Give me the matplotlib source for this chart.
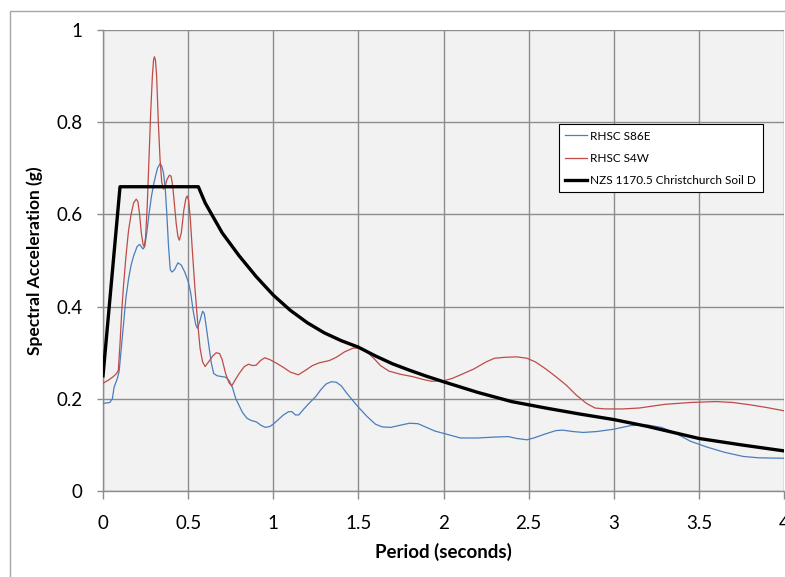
"""Response spectra: RHSC records vs NZS 1170.5 design spectrum."""

import matplotlib
matplotlib.use("Agg")
import matplotlib.pyplot as plt
from matplotlib.patches import Rectangle

BLUE = "#4a7ebb"
RED = "#be4b48"
GRID = "#8c8c8c"
PLOT_BG = "#f2f2f2"

# RHSC S86E (blue)
s86e_t = [0.0, 0.04, 0.055, 0.065, 0.085, 0.095, 0.105, 0.12, 0.135, 0.15, 0.165, 0.18,
          0.2, 0.215, 0.235, 0.245, 0.257, 0.27, 0.285, 0.3, 0.32, 0.335, 0.345, 0.355,
          0.365, 0.375, 0.385, 0.395, 0.405, 0.42, 0.44, 0.46, 0.48, 0.5, 0.515, 0.53,
          0.545, 0.555, 0.57, 0.585, 0.595, 0.605, 0.62, 0.635, 0.65, 0.67, 0.7, 0.72,
          0.74, 0.76, 0.78, 0.8, 0.82, 0.845, 0.87, 0.9, 0.93, 0.955, 0.98, 1.0, 1.03,
          1.06, 1.09, 1.11, 1.13, 1.15, 1.18, 1.21, 1.25, 1.28, 1.31, 1.34, 1.37, 1.4,
          1.43, 1.47, 1.5, 1.55, 1.6, 1.64, 1.69, 1.75, 1.8, 1.85, 1.9, 1.95, 2.0, 2.05,
          2.1, 2.2, 2.3, 2.38, 2.43, 2.49, 2.53, 2.6, 2.66, 2.7, 2.76, 2.82, 2.9, 3.0,
          3.1, 3.2, 3.28, 3.35, 3.45, 3.55, 3.65, 3.76, 3.85, 4.0]
s86e_sa = [0.19, 0.192, 0.2, 0.225, 0.245, 0.26, 0.3, 0.36, 0.42, 0.46, 0.49, 0.51,
           0.53, 0.535, 0.525, 0.53, 0.56, 0.6, 0.64, 0.67, 0.7, 0.71, 0.705, 0.69,
           0.66, 0.6, 0.53, 0.48, 0.475, 0.48, 0.495, 0.49, 0.475, 0.455, 0.43, 0.39,
           0.36, 0.353, 0.37, 0.39, 0.385, 0.36, 0.32, 0.28, 0.255, 0.25, 0.248, 0.247,
           0.24, 0.225, 0.2, 0.185, 0.17, 0.158, 0.153, 0.15, 0.142, 0.138, 0.14, 0.145,
           0.155, 0.165, 0.172, 0.172, 0.165, 0.165, 0.178, 0.19, 0.205, 0.22, 0.232,
           0.237, 0.236, 0.228, 0.213, 0.195, 0.182, 0.162, 0.145, 0.139, 0.138, 0.143,
           0.147, 0.146, 0.138, 0.13, 0.125, 0.12, 0.115, 0.115, 0.117, 0.118, 0.114,
           0.111, 0.115, 0.124, 0.131, 0.132, 0.129, 0.127, 0.129, 0.134, 0.142, 0.143,
           0.138, 0.128, 0.108, 0.095, 0.084, 0.075, 0.072, 0.071]

# RHSC S4W (red)
s4w_t = [0.0, 0.03, 0.06, 0.08, 0.09, 0.1, 0.11, 0.12, 0.135, 0.15, 0.165, 0.18, 0.195,
         0.205, 0.215, 0.225, 0.235, 0.242, 0.25, 0.26, 0.27, 0.28, 0.29, 0.297, 0.302,
         0.308, 0.315, 0.325, 0.335, 0.345, 0.355, 0.365, 0.375, 0.39, 0.4, 0.41, 0.42,
         0.43, 0.44, 0.448, 0.46, 0.475, 0.487, 0.495, 0.503, 0.513, 0.525, 0.54, 0.555,
         0.57, 0.585, 0.6, 0.62, 0.645, 0.665, 0.685, 0.7, 0.72, 0.74, 0.756, 0.775, 0.8,
         0.83, 0.855, 0.88, 0.9, 0.925, 0.95, 0.98, 1.02, 1.06, 1.1, 1.147, 1.19, 1.23,
         1.27, 1.33, 1.37, 1.42, 1.47, 1.51, 1.55, 1.59, 1.63, 1.68, 1.75, 1.82, 1.88,
         1.93, 2.0, 2.05, 2.1, 2.18, 2.25, 2.3, 2.36, 2.43, 2.49, 2.54, 2.6, 2.66, 2.72,
         2.78, 2.84, 2.89, 2.95, 3.05, 3.15, 3.3, 3.45, 3.6, 3.7, 3.8, 3.9, 4.0]
s4w_sa = [0.234, 0.24, 0.248, 0.255, 0.262, 0.32, 0.39, 0.443, 0.51, 0.565, 0.6, 0.625,
          0.633, 0.628, 0.6, 0.56, 0.535, 0.53, 0.55, 0.62, 0.72, 0.82, 0.9, 0.935, 0.942,
          0.935, 0.9, 0.8, 0.72, 0.67, 0.655, 0.662, 0.675, 0.685, 0.683, 0.66, 0.62,
          0.58, 0.552, 0.544, 0.56, 0.61, 0.635, 0.64, 0.63, 0.59, 0.52, 0.44, 0.37,
          0.31, 0.28, 0.27, 0.28, 0.293, 0.3, 0.298, 0.285, 0.255, 0.235, 0.228, 0.24,
          0.255, 0.27, 0.275, 0.272, 0.273, 0.283, 0.289, 0.285, 0.277, 0.268, 0.258,
          0.252, 0.262, 0.272, 0.278, 0.283, 0.29, 0.302, 0.31, 0.31, 0.302, 0.288, 0.272,
          0.26, 0.253, 0.248, 0.242, 0.238, 0.239, 0.244, 0.252, 0.265, 0.28, 0.288, 0.29,
          0.291, 0.288, 0.28, 0.265, 0.248, 0.23, 0.208, 0.19, 0.18, 0.178, 0.178, 0.18,
          0.188, 0.192, 0.194, 0.192, 0.187, 0.181, 0.174]

# NZS 1170.5 Christchurch Soil D (black)
nzs_t = [0.0, 0.1, 0.56, 0.6, 0.7, 0.8, 0.9, 1.0, 1.1, 1.2, 1.3, 1.4, 1.5, 1.6, 1.7,
         1.8, 1.9, 2.0, 2.2, 2.4, 2.6, 2.8, 3.0, 3.2, 3.5, 3.75, 4.0]
nzs_sa = [0.25, 0.66, 0.66, 0.625, 0.56, 0.51, 0.465, 0.425, 0.392, 0.365, 0.343, 0.326,
          0.312, 0.293, 0.276, 0.262, 0.249, 0.237, 0.214, 0.194, 0.18, 0.167, 0.155,
          0.14, 0.114, 0.1, 0.087]

x_ticks = [0, 0.5, 1, 1.5, 2, 2.5, 3, 3.5, 4]
y_ticks = [0, 0.2, 0.4, 0.6, 0.8, 1]

plt.rcParams.update({
    "font.family": ["Lato", "DejaVu Sans"],
    "font.size": 11,
})

fig = plt.figure(figsize=(7.85, 5.77), dpi=100)
fig.patch.set_facecolor("white")

# outer chart frame (runs off the right/bottom of the image)
fig.patches.append(Rectangle((10 / 785, -0.1), 1.0, (577 - 11) / 577 + 0.1,
                             transform=fig.transFigure, fill=False,
                             edgecolor="#a6a6a6", linewidth=1.0, zorder=0))

ax = fig.add_axes([103 / 785, 1 - 491 / 577, 681 / 785, 461 / 577])
ax.set_facecolor(PLOT_BG)

ax.plot(s86e_t, s86e_sa, color=BLUE, linewidth=0.9, label="RHSC S86E", zorder=3)
ax.plot(s4w_t, s4w_sa, color=RED, linewidth=0.9, label="RHSC S4W", zorder=3)
ax.plot(nzs_t, nzs_sa, color="black", linewidth=2.4,
        label="NZS 1170.5 Christchurch Soil D", zorder=4)

ax.set_xlim(0, 4)
ax.set_ylim(0, 1)
ax.set_xticks(x_ticks)
ax.set_xticklabels([f"{v:g}" for v in x_ticks])
ax.set_yticks(y_ticks)
ax.set_yticklabels([f"{v:g}" for v in y_ticks])
ax.grid(True, color=GRID, linewidth=1.0)
ax.set_axisbelow(True)

for side in ("top", "right"):
    ax.spines[side].set_visible(False)
for side in ("left", "bottom"):
    ax.spines[side].set_color(GRID)
    ax.spines[side].set_linewidth(1.0)

ax.tick_params(axis="both", colors=GRID, width=1.0, labelcolor="black",
               labelsize=13.5)
ax.tick_params(axis="x", length=6, pad=11)
ax.tick_params(axis="y", length=4.5, pad=10)

ax.set_xlabel("Period (seconds)", fontsize=13.5, fontweight="bold", labelpad=8)
ax.set_ylabel("Spectral Acceleration (g)", fontsize=12.5, fontweight="bold", labelpad=10)

leg = ax.legend(loc="upper left", bbox_to_anchor=(0.6696, 0.796), fontsize=8.5,
                frameon=True, fancybox=False, handlelength=1.8, handletextpad=0.3,
                labelspacing=0.95, borderpad=0.55, borderaxespad=0)
leg.get_frame().set_edgecolor("black")
leg.get_frame().set_linewidth(0.8)
leg.get_frame().set_facecolor("white")
leg.get_frame().set_alpha(1)

fig.savefig("out.png", dpi=100)
